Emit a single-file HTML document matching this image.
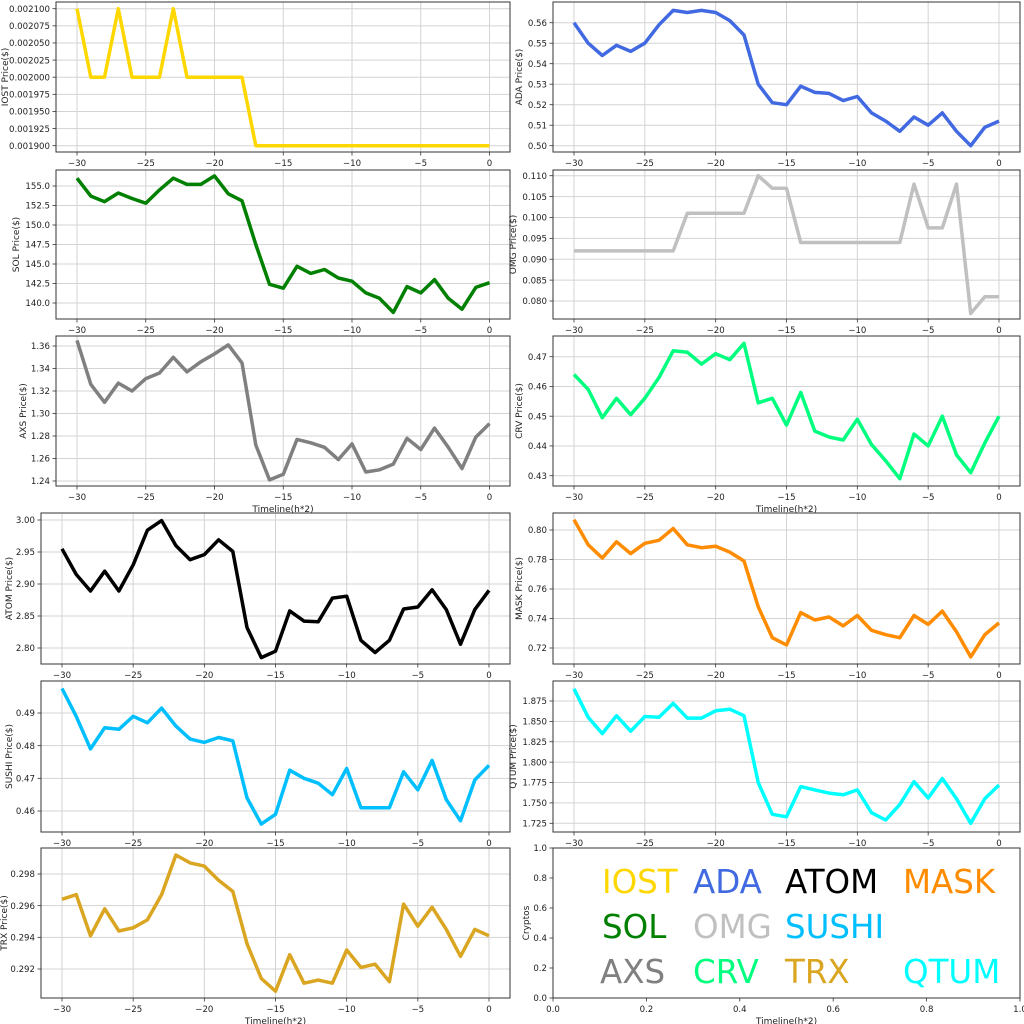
<!DOCTYPE html>
<html><head><meta charset="utf-8">
<style>
html,body{margin:0;padding:0;background:#fff;}
svg{display:block;}
text{font-family:"DejaVu Sans","Liberation Sans",sans-serif;}
</style></head>
<body>
<svg id="s" width="1024" height="1024" xmlns="http://www.w3.org/2000/svg"></svg>
<script>
const S=document.getElementById('s');
let out='';
const TF=8.6, LF=9;
function panel(o){
  const {L,R,T,B,x30,x0,ya,yav,yb,ybv,ticks,fmt,data,color,ylabel,xlabel,ylx}=o;
  const ux=(x0-x30)/30;
  const X=v=>x30+(v+30)*ux;
  const Y=v=>ya+(v-yav)*(yb-ya)/(ybv-yav);
  let g='';
  for(let t=-30;t<=0;t+=5){const x=X(t);g+=`<line x1="${x}" y1="${T}" x2="${x}" y2="${B}" stroke="#d3d3d3" stroke-width="1"/>`;
    g+=`<line x1="${x}" y1="${B}" x2="${x}" y2="${B+3.5}" stroke="#333" stroke-width="0.8"/>`;
    g+=`<text x="${x}" y="${B+14}" font-size="${TF}" text-anchor="middle" fill="#222">${t<0?'\u2212'+(-t):t}</text>`;}
  ticks.forEach(t=>{const y=Y(t);g+=`<line x1="${L}" y1="${y}" x2="${R}" y2="${y}" stroke="#d3d3d3" stroke-width="1"/>`;
    g+=`<line x1="${L-3.5}" y1="${y}" x2="${L}" y2="${y}" stroke="#333" stroke-width="0.8"/>`;
    g+=`<text x="${L-6}" y="${y+3.2}" font-size="${TF}" text-anchor="end" fill="#222">${t.toFixed(fmt)}</text>`;});
  const pts=data.map((v,i)=>X(i-30).toFixed(1)+','+Y(v).toFixed(1)).join(' ');
  g+=`<polyline points="${pts}" fill="none" stroke="${color}" stroke-width="3.5" stroke-linejoin="round"/>`;
  g+=`<rect x="${L}" y="${T}" width="${R-L}" height="${B-T}" fill="none" stroke="#333" stroke-width="1"/>`;
  const cy=(T+B)/2;
  g+=`<text transform="translate(${ylx},${cy}) rotate(-90)" font-size="${LF}" text-anchor="middle" fill="#222">${ylabel}</text>`;
  if(xlabel) g+=`<text x="${(L+R)/2}" y="${B+26}" font-size="${LF}" text-anchor="middle" fill="#222">Timeline(h*2)</text>`;
  out+=g;
}
function rng(a,b,s){const r=[];for(let v=a;v<=b+s/1000;v+=s)r.push(+v.toFixed(6));return r;}
const LA={L:56,R:510,x30:77,x0:489.5};
const LB={L:41,R:510,x30:62,x0:489};
const RA={L:553,R:1020,x30:574,x0:999};
const IOST=[0.0021,0.002,0.002,0.0021,0.002,0.002,0.002,0.0021,0.002,0.002,0.002,0.002,0.002].concat(Array(18).fill(0.0019));
panel({...LA,T:2,B:152,ya:8.7,yav:0.0021,yb:145.7,ybv:0.0019,ticks:rng(0.0019,0.0021,0.000025),fmt:6,data:IOST,color:'#FFD700',ylabel:'IOST Price($)',ylx:8});
panel({...RA,T:2,B:152,ya:22.7,yav:0.56,yb:145.7,ybv:0.50,ticks:rng(0.5,0.56,0.01),fmt:2,color:'#4169E1',ylabel:'ADA  Price($)',ylx:522,
 data:[.56,.55,.544,.549,.546,.55,.559,.566,.565,.566,.565,.561,.554,.53,.521,.52,.529,.526,.5255,.522,.524,.516,.512,.507,.514,.51,.516,.507,.50,.509,.512]});
panel({...LA,T:170,B:319,ya:186,yav:155,yb:303,ybv:140,ticks:rng(140,155,2.5),fmt:1,color:'#008000',ylabel:'SOL Price($)',ylx:19,
 data:[156,153.7,153,154.1,153.4,152.8,154.5,156,155.2,155.2,156.3,154,153.1,147.5,142.4,141.9,144.7,143.8,144.3,143.2,142.8,141.3,140.6,138.8,142.1,141.3,143,140.6,139.2,142,142.6]});
panel({...RA,T:170,B:319,ya:175.7,yav:0.110,yb:301,ybv:0.080,ticks:rng(0.08,0.11,0.005),fmt:3,color:'#C0C0C0',ylabel:'OMG  Price($)',ylx:516,
 data:[.092,.092,.092,.092,.092,.092,.092,.092,.101,.101,.101,.101,.101,.110,.107,.107,.094,.094,.094,.094,.094,.094,.094,.094,.108,.0975,.0975,.108,.077,.081,.081]});
panel({...LA,T:336,B:486,ya:346,yav:1.36,yb:481,ybv:1.24,ticks:rng(1.24,1.36,0.02),fmt:2,color:'#808080',ylabel:'AXS Price($)',ylx:26,xlabel:1,
 data:[1.365,1.326,1.31,1.327,1.32,1.331,1.336,1.35,1.337,1.346,1.353,1.361,1.345,1.272,1.241,1.246,1.277,1.274,1.27,1.259,1.273,1.248,1.25,1.255,1.278,1.268,1.287,1.27,1.251,1.279,1.291]});
panel({...RA,T:336,B:486,ya:356.7,yav:0.47,yb:475.7,ybv:0.43,ticks:rng(0.43,0.47,0.01),fmt:2,color:'#00FF7F',ylabel:'CRV  Price($)',ylx:522,xlabel:1,
 data:[.464,.459,.4495,.456,.4505,.456,.463,.472,.4715,.4675,.471,.469,.4745,.4545,.456,.447,.458,.445,.443,.442,.449,.4405,.435,.429,.444,.440,.450,.437,.431,.441,.450]});
panel({...LB,T:513,B:664,ya:520,yav:3.0,yb:648,ybv:2.80,ticks:rng(2.8,3.0,0.05),fmt:2,color:'#000000',ylabel:'ATOM  Price($)',ylx:12,
 data:[2.955,2.915,2.889,2.92,2.889,2.93,2.984,2.999,2.96,2.938,2.946,2.969,2.951,2.832,2.785,2.795,2.858,2.842,2.841,2.878,2.881,2.812,2.793,2.812,2.861,2.864,2.891,2.86,2.806,2.86,2.89]});
panel({...RA,T:513,B:664,ya:530,yav:0.80,yb:648,ybv:0.72,ticks:rng(0.72,0.80,0.02),fmt:2,color:'#FF8C00',ylabel:'MASK  Price($)',ylx:522,
 data:[.807,.79,.781,.792,.784,.791,.793,.801,.79,.788,.789,.785,.779,.748,.727,.722,.744,.739,.741,.735,.742,.732,.729,.727,.742,.736,.745,.731,.714,.729,.737]});
panel({...LB,T:681,B:832,ya:713,yav:0.49,yb:811,ybv:0.46,ticks:rng(0.46,0.49,0.01),fmt:2,color:'#00BFFF',ylabel:'SUSHI  Price($)',ylx:12,
 data:[.4975,.489,.479,.4855,.485,.489,.487,.4915,.486,.482,.481,.4825,.4815,.464,.456,.459,.4725,.470,.4685,.465,.473,.461,.461,.461,.472,.4665,.4755,.4635,.457,.4695,.474]});
panel({...RA,T:681,B:832,ya:701,yav:1.875,yb:823.3,ybv:1.725,ticks:rng(1.725,1.875,0.025),fmt:3,color:'#00FFFF',ylabel:'QTUM Price($)',ylx:516,
 data:[1.89,1.855,1.835,1.857,1.838,1.856,1.855,1.872,1.854,1.854,1.863,1.865,1.857,1.775,1.736,1.733,1.77,1.766,1.762,1.76,1.766,1.738,1.729,1.748,1.776,1.756,1.78,1.755,1.725,1.755,1.772]});
panel({...LB,T:848,B:998,ya:874,yav:0.298,yb:969,ybv:0.292,ticks:rng(0.292,0.298,0.002),fmt:3,color:'#DAA520',ylabel:'TRX Price($)',ylx:7,xlabel:1,
 data:[.2964,.2967,.2941,.2958,.2944,.2946,.2951,.2967,.2992,.2987,.2985,.2976,.2969,.2936,.2914,.2906,.2929,.2911,.2913,.2911,.2932,.2921,.2923,.2912,.2961,.2947,.2959,.2945,.2928,.2945,.2941]});
(function(){
 const L=553,R=1020,T=848,B=998;let g='';
 for(let i=0;i<=5;i++){const v=i*0.2;const x=L+(R-L)*v,y=B-(B-T)*v;
  g+=`<line x1="${x}" y1="${B}" x2="${x}" y2="${B+3.5}" stroke="#333" stroke-width="0.8"/>`;
  g+=`<text x="${x}" y="${B+14}" font-size="${TF}" text-anchor="middle" fill="#222">${v.toFixed(1)}</text>`;
  g+=`<line x1="${L-3.5}" y1="${y}" x2="${L}" y2="${y}" stroke="#333" stroke-width="0.8"/>`;
  g+=`<text x="${L-6}" y="${y+3.2}" font-size="${TF}" text-anchor="end" fill="#222">${v.toFixed(1)}</text>`;}
 g+=`<rect x="${L}" y="${T}" width="${R-L}" height="${B-T}" fill="none" stroke="#333" stroke-width="1"/>`;
 g+=`<text transform="translate(529,${(T+B)/2}) rotate(-90)" font-size="${LF}" text-anchor="middle" fill="#222">Cryptos</text>`;
 g+=`<text x="${(L+R)/2}" y="${B+26}" font-size="${LF}" text-anchor="middle" fill="#222">Timeline(h*2)</text>`;
 const items=[['IOST',602,893,'#FFD700'],['ADA',693,893,'#4169E1'],['ATOM',785,893,'#000000'],['MASK',903,893,'#FF8C00'],
 ['SOL',602,938,'#008000'],['OMG',693,938,'#C0C0C0'],['SUSHI',785,938,'#00BFFF'],
 ['AXS',600,983,'#808080'],['CRV',693,983,'#00FF7F'],['TRX',785,983,'#DAA520'],['QTUM',903,983,'#00FFFF']];
 items.forEach(([t,x,y,c])=>{g+=`<text x="${x}" y="${y}" font-size="32.5" fill="${c}">${t}</text>`;});
 out+=g;
})();
S.innerHTML=out;
</script>
</body></html>
